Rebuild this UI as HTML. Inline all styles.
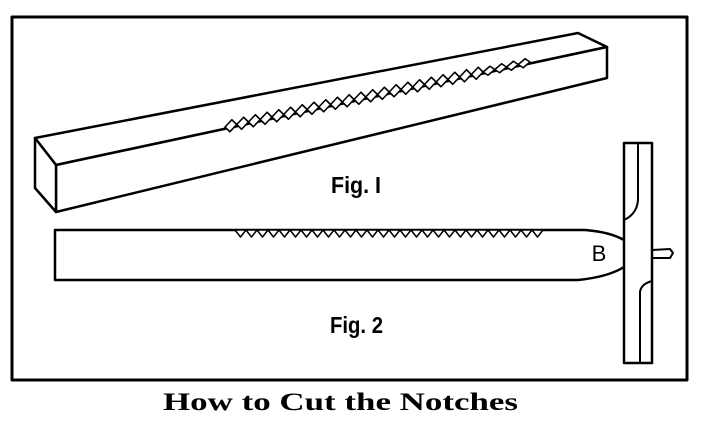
<!DOCTYPE html>
<html><head><meta charset="utf-8"><style>
html,body{margin:0;padding:0;background:#fff;}
svg{display:block;}
</style></head><body>
<svg id="s" width="711" height="448" viewBox="0 0 711 448">
<g fill="none" stroke="#000" stroke-linejoin="round" stroke-linecap="round">
<rect x="12" y="17" width="675" height="363" stroke-width="3"/>
<g stroke-width="2.5">
<polygon points="35,138 578,33 607,47 56,165" fill="#fff"/>
<polygon points="56,165 607,47 607,78 56,212" fill="#fff"/>
<polygon points="35,138 56,165 56,212 35,188" fill="#fff"/>
</g>
<g id="n1" stroke-width="1.6"></g>
<g stroke-width="2.5">
<path d="M55,230 L585,230 Q610,232 624,240 M55,230 L55,280 L578,280 Q608,277 624,267"/>
</g>
<g id="n2" stroke-width="1.5"></g>
<g stroke-width="2.5">
<rect x="624" y="143" width="28" height="220" fill="#fff"/>
<path d="M638,143 L638,200 Q637,214 624,220" stroke-width="2"/>
<path d="M640,363 L640,292 Q641,284 652,281" stroke-width="2"/>
<path d="M652,250 L670,249 L673,253 L670,258 L652,258" stroke-width="2"/>
</g>
</g>
<g font-family="'Liberation Sans', sans-serif" font-weight="bold" fill="#000">
<text x="331" y="193" font-size="23" textLength="50" lengthAdjust="spacingAndGlyphs">Fig. I</text>
<text x="330" y="333" font-size="23" textLength="53" lengthAdjust="spacingAndGlyphs">Fig. 2</text>
<text x="599" y="261" font-size="22" font-weight="normal" text-anchor="middle">B</text>
</g>
<text x="163" y="410" font-family="'Liberation Serif', serif" font-weight="bold" font-size="25" textLength="355" lengthAdjust="spacingAndGlyphs">How to Cut  the Notches</text>
</svg>
<script>
const NS='http://www.w3.org/2000/svg';
const n1=document.getElementById('n1');
const x0=225,y0=127,x1=530,y1=62,N=26;
for(let i=0;i<N;i++){
  const a=i/N,b=(i+1)/N,m=(a+b)/2;
  const ax=x0+(x1-x0)*a,ay=y0+(y1-y0)*a,bx=x0+(x1-x0)*b,by=y0+(y1-y0)*b;
  const mx=x0+(x1-x0)*m,my=y0+(y1-y0)*m;
  const h=(i<N-4)?6:4.5;
  const p=document.createElementNS(NS,'polygon');
  p.setAttribute('points',`${ax},${ay} ${mx+1},${my-h} ${bx},${by} ${mx-1},${my+h}`);
  p.setAttribute('fill','#fff');
  
  
  n1.appendChild(p);
}
const n2=document.getElementById('n2');
const sx=235,ex=543,M=28,w=(ex-sx)/M;
for(let i=0;i<M;i++){
  const a=sx+i*w;
  const p=document.createElementNS(NS,'polygon');
  p.setAttribute('points',`${a},230 ${a+w/2},237 ${a+w},230`);
  p.setAttribute('fill','#fff');
  
  
  n2.appendChild(p);
}
</script>
</body></html>
